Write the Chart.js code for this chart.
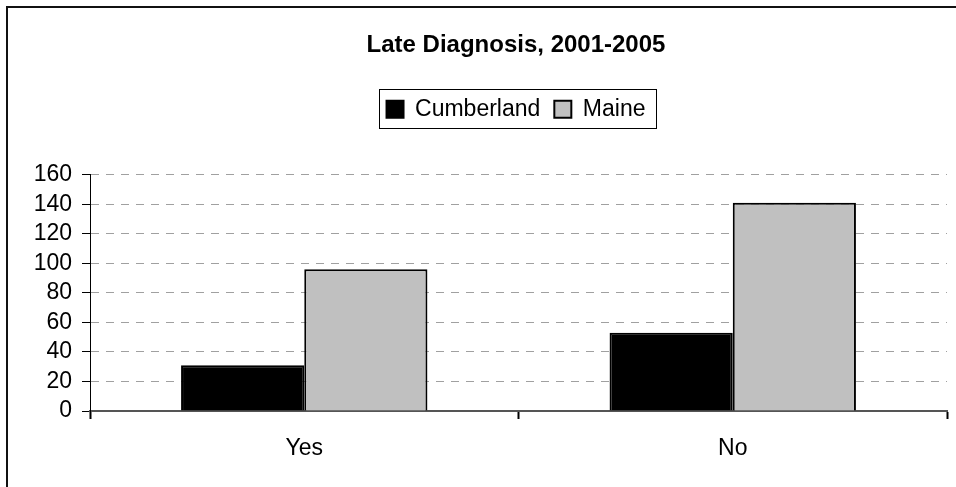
<!DOCTYPE html>
<html>
<head>
<meta charset="utf-8">
<script src="https://cdn.jsdelivr.net/npm/chart.js@4"></script>
<style>
  html, body { margin: 0; padding: 0; background: #fff; overflow: hidden; }
  #wrap { position: absolute; left: 0; top: 0; width: 956px; height: 487px; }
  #frame { position: absolute; left: 6px; top: 6px; width: 1000px; height: 1000px; border: 2px solid #111; box-sizing: border-box; pointer-events: none; }
</style>
</head>
<body>
<div id="wrap">
  <canvas id="chart" width="956" height="487"></canvas>
  <div id="frame"></div>
</div>
<script>
const categories = ['Yes', 'No'];
const cumberland = [31, 53];
const maine = [96, 141];
const yTicks = [0, 20, 40, 60, 80, 100, 120, 140, 160];

const FONT = 'Arial, "Liberation Sans", sans-serif';

// centre title and legend over the plot area rather than the whole canvas
const centreOverPlot = {
    id: 'centreOverPlot',
    afterLayout(chart) {
        const left = chart.chartArea.left - 5;
        [chart.titleBlock, chart.legend].forEach(b => {
            if (!b) return;
            const shift = (left - b.left) / 2;
            b.left = left;
            b.width = b.right - b.left;
            if (b.legendHitBoxes) b.legendHitBoxes.forEach(h => { h.left += shift; });
        });
    }
};

// draw a box around the legend like Excel does
const legendBox = {
    id: 'legendBox',
    afterDraw(chart) {
        const boxes = chart.legend.legendHitBoxes;
        if (!boxes || !boxes.length) return;
        let x0 = Infinity, x1 = -Infinity, y0 = Infinity, y1 = -Infinity;
        boxes.forEach(b => {
            x0 = Math.min(x0, b.left);
            x1 = Math.max(x1, b.left + b.width);
            y0 = Math.min(y0, b.top);
            y1 = Math.max(y1, b.top + b.height);
        });
        const cy = (y0 + y1) / 2;
        const ctx = chart.ctx;
        ctx.save();
        ctx.strokeStyle = '#000';
        ctx.lineWidth = 1;
        ctx.strokeRect(Math.round(x0 - 8) + 0.5, Math.round(cy - 20) + 0.5, Math.round(x1 - x0 + 18), 39);
        ctx.restore();
    }
};

window.onload = function() {
    const ctx = document.getElementById('chart').getContext('2d');
    new Chart(ctx, {
        type: 'bar',
        data: {
            labels: categories,
            datasets: [{
                label: 'Cumberland',
                data: cumberland,
                backgroundColor: '#000000',
                borderColor: '#000000',
                borderWidth: 2
            }, {
                label: 'Maine',
                data: maine,
                backgroundColor: '#c0c0c0',
                borderColor: '#000000',
                borderWidth: 2
            }]
        },
        options: {
            responsive: false,
            animation: false,
            layout: { padding: { left: 0, right: 9, top: 26, bottom: 0 } },
            datasets: {
                bar: { categoryPercentage: 0.575, barPercentage: 1.0 }
            },
            scales: {
                x: {
                    offset: true,
                    grid: { offset: true, drawOnChartArea: false, drawTicks: true, tickLength: 8, tickColor: '#000', tickWidth: 2 },
                    border: { display: true, color: '#555', width: 2 },
                    ticks: { font: { family: FONT, size: 23 }, color: '#000', padding: 16 },
                    afterFit: s => { s.height = 76; }
                },
                y: {
                    min: 0,
                    max: 160,
                    afterBuildTicks: s => { s.ticks = yTicks.map(v => ({ value: v })); },
                    grid: {
                        color: '#a0a0a0',
                        lineWidth: 1,
                        drawTicks: true,
                        tickLength: 8,
                        tickColor: '#000',
                        tickBorderDash: []
                    },
                    border: { display: true, color: '#000', width: 1, dash: [8, 7] },
                    ticks: { font: { family: FONT, size: 23 }, color: '#000', padding: 10, autoSkip: false },
                    afterFit: s => { s.width = 90; }
                }
            },
            plugins: {
                title: {
                    display: true,
                    text: 'Late Diagnosis, 2001-2005',
                    color: '#000',
                    font: { family: FONT, size: 24, weight: 'bold' },
                    padding: { top: 5, bottom: 24 }
                },
                // empty spacer between legend and plot area
                subtitle: {
                    display: true,
                    text: '',
                    weight: 500,
                    font: { size: 10 },
                    padding: { top: 0, bottom: 32 }
                },
                legend: {
                    display: true,
                    position: 'top',
                    labels: {
                        color: '#000',
                        font: { family: FONT, size: 23 },
                        boxWidth: 17,
                        boxHeight: 17,
                        padding: 14,
                        useBorderRadius: false
                    }
                },
                tooltip: { enabled: false }
            }
        },
        plugins: [centreOverPlot, legendBox]
    });
};
</script>
</body>
</html>
